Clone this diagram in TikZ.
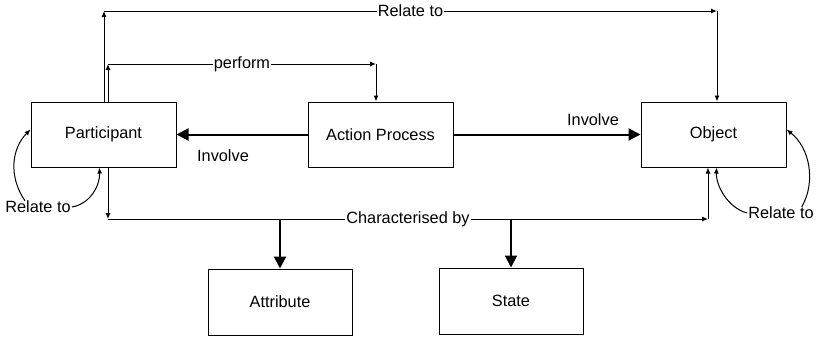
\documentclass[tikz,border=0pt]{standalone}
\usepackage{fontspec}
\setmainfont{Liberation Sans}
\usetikzlibrary{arrows.meta}
\begin{document}
\begin{tikzpicture}[x=1pt,y=-1pt,
  font=\fontsize{16.3}{19}\selectfont,
  box/.style={draw=black,line width=1pt,minimum width=145pt,minimum height=65pt,inner sep=0pt},
  thinln/.style={draw=black,line width=1pt,-{Latex[length=6pt,width=5pt]}},
  boldln/.style={draw=black,line width=2pt,-{Triangle[length=12pt,width=12pt]}},
  lbl/.style={fill=white,inner sep=1pt}]
\useasboundingbox (0,0) rectangle (817,338);
\node[box] (P) at (103.5,134.5) {Participant};
\node[box] (A) at (380.5,134.5) {Action Process};
\node[box] (O) at (713.5,134.5) {Object};
\node[box,minimum width=144pt,minimum height=66pt] (At) at (280,302) {Attribute};
\node[box,minimum width=144pt,minimum height=66pt] (S) at (511,301) {State};
% Relate to (top)
\coordinate (r1) at (104,11);
\coordinate (r2) at (717,11);
\draw[thinln] (P.north -| r1) -- (r1);
\draw[thinln] (r1) -- node[lbl]{Relate to} (r2);
\draw[thinln] (r2) -- (O.north -| r2);
% perform
\coordinate (p1) at (108,64);
\coordinate (p2) at (376,64);
\draw[thinln] (P.north -| p1) -- (p1);
\draw[thinln] (p1) -- node[lbl]{perform} (p2);
\draw[thinln] (p2) -- (A.north -| p2);
% Involve
\draw[boldln] (A.west) -- (P.east);
\node (I1) at (223,156) {Involve};
\draw[boldln] (A.east) -- (O.west);
\node (I2) at (593,120) {Involve};
% Characterised by
\coordinate (c1) at (108,219);
\coordinate (c2) at (708,219);
\draw[thinln] (P.south -| c1) -- (c1);
\draw[thinln] (c1) -- node[lbl]{Characterised by} (c2);
\draw[thinln] (c2) -- (O.south -| c2);
\draw[boldln] (At.north |- c1) -- (At.north);
\draw[boldln] (S.north |- c1) -- (S.north);
% self loops
\node[inner sep=0pt] (RL) at (38,207) {Relate to};
\draw[thinln] ([xshift=-13pt]RL.north) .. controls (8,176) and (12,148) .. ([yshift=5pt]P.west);
\draw[thinln] ([xshift=1pt]RL.east) .. controls (90,204) and (100,186) .. ([xshift=-4pt]P.south);
\node[inner sep=0pt] (RO) at (781,213) {Relate to};
\draw[thinln] ([xshift=-12pt]RO.north east) .. controls (816,182) and (810,148) .. ([yshift=5pt]O.east);
\draw[thinln] ([xshift=-1pt]RO.west) .. controls (728,208) and (716,186) .. ([xshift=3pt]O.south);
\end{tikzpicture}
\end{document}
